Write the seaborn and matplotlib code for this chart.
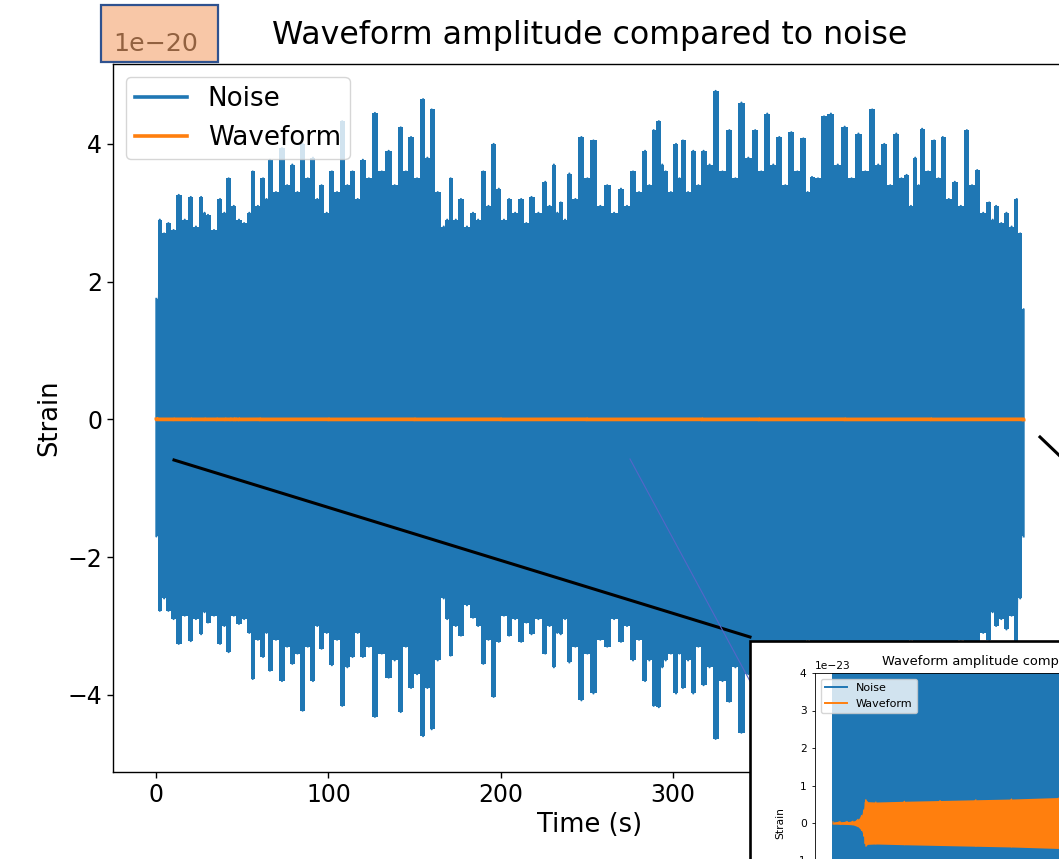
import numpy as np
import matplotlib
matplotlib.use("Agg")
import matplotlib.pyplot as plt
from matplotlib.lines import Line2D
from matplotlib.patches import Rectangle
import seaborn as sns

# ---------------- data ----------------
# noise bursts: time (s), upper and lower extremes (units of 1e-20)
noise_t = [0, 2, 4.5, 7, 10, 13, 16.5, 20, 23, 26,
           28, 30, 33.5, 37, 39.5, 42, 45, 48, 51, 54,
           56, 59, 62, 64, 66, 69.5, 73, 76, 79, 82,
           85, 88, 91, 93.5, 96, 99, 102, 105, 108, 111,
           114, 117, 120, 123.5, 127, 131, 135, 138.5, 142, 145,
           148, 151.5, 155, 157.5, 160, 163.5, 167, 169, 171, 174,
           177, 180.5, 184, 187, 190, 193, 196, 199, 202, 205,
           208.5, 212, 215, 218, 222, 226, 228.5, 231, 233, 235,
           237.5, 240, 243.5, 247, 250.5, 254, 258, 262, 266, 270,
           273.5, 277, 280.5, 284, 286.5, 289, 292, 294, 296, 299,
           302, 304, 306, 309, 312, 315, 318, 321.5, 325, 329,
           333, 336.5, 340, 344, 348, 351.5, 355, 358.5, 362, 365.5,
           369, 372.5, 376, 378.5, 381, 384.5, 388, 392, 396, 400,
           404, 408, 412, 416, 419.5, 423, 426.5, 430, 433, 436,
           438.5, 441, 443, 445, 448.5, 452, 454.5, 457, 460.5, 464,
           467.5, 471, 474, 477, 480.5, 484, 486, 488, 491, 494,
           497, 500, 502, 504]
noise_upper = [1.75, 2.9, 2.7, 2.85, 2.75, 3.26, 2.9, 3.23, 2.8, 3.23,
               3.0, 2.97, 2.75, 3.2, 3.0, 3.5, 3.1, 2.9, 2.85, 3.0,
               3.6, 3.1, 3.5, 3.2, 3.77, 3.3, 3.94, 3.4, 3.7, 3.3,
               4.0, 3.5, 3.8, 3.2, 3.4, 3.0, 3.6, 3.3, 4.33, 3.4,
               3.6, 3.2, 3.77, 3.5, 4.45, 3.6, 3.9, 3.4, 4.24, 3.6,
               4.1, 3.5, 4.65, 3.8, 4.5, 3.3, 2.8, 2.9, 3.5, 2.9,
               3.2, 2.8, 3.0, 2.9, 3.6, 3.1, 4.0, 3.35, 2.9, 3.2,
               3.0, 3.2, 2.85, 3.23, 3.0, 3.45, 3.1, 3.7, 3.0, 3.15,
               2.9, 3.57, 3.2, 4.1, 3.5, 4.05, 3.1, 3.4, 3.0, 3.35,
               3.1, 3.6, 3.3, 3.9, 3.4, 4.2, 4.33, 3.7, 3.6, 3.3,
               4.0, 3.5, 4.05, 3.3, 3.9, 3.4, 3.9, 3.7, 4.77, 3.6,
               4.2, 3.5, 4.6, 3.8, 4.2, 3.6, 4.44, 3.7, 4.1, 3.4,
               4.17, 3.6, 4.08, 3.3, 3.52, 3.5, 4.4, 4.44, 3.7, 4.25,
               3.5, 4.15, 3.6, 4.5, 3.7, 4.0, 3.4, 4.15, 3.5, 3.55,
               3.1, 3.8, 3.4, 4.22, 3.6, 4.05, 3.5, 4.1, 3.2, 3.45,
               3.1, 4.2, 3.4, 3.62, 3.0, 3.15, 2.9, 3.1, 2.85, 3.0,
               2.8, 3.2, 2.7, 1.6]
noise_lower = [-1.7, -2.78, -2.6, -2.78, -2.9, -3.26, -2.85, -3.22, -2.9, -3.12,
               -2.8, -2.95, -2.85, -3.26, -3.0, -3.38, -2.85, -2.97, -2.9, -3.1,
               -3.77, -3.2, -3.45, -3.1, -3.65, -3.2, -3.8, -3.3, -3.55, -3.4,
               -4.23, -3.3, -3.8, -3.0, -3.33, -3.1, -3.57, -3.2, -4.16, -3.6,
               -3.45, -3.1, -3.45, -3.3, -4.32, -3.4, -3.75, -3.5, -4.25, -3.3,
               -3.9, -3.7, -4.6, -3.9, -4.5, -3.5, -2.6, -2.9, -3.43, -3.0,
               -3.14, -2.7, -2.88, -3.0, -3.55, -3.2, -4.03, -3.23, -2.85, -3.14,
               -2.9, -3.23, -2.95, -3.12, -2.9, -3.4, -3.0, -3.6, -3.1, -3.12,
               -2.9, -3.53, -3.3, -4.08, -3.4, -3.98, -3.2, -3.3, -2.9, -3.23,
               -3.0, -3.5, -3.2, -3.8, -3.5, -4.16, -4.18, -3.6, -3.5, -3.4,
               -3.98, -3.4, -3.9, -3.5, -3.98, -3.3, -3.86, -3.6, -4.64, -3.8,
               -4.1, -3.6, -4.55, -3.7, -4.1, -3.5, -4.3, -3.6, -4.0, -3.5,
               -4.2, -3.7, -3.95, -3.2, -3.6, -3.6, -4.35, -4.4, -3.6, -4.1,
               -3.7, -4.2, -3.5, -4.4, -3.6, -3.9, -3.5, -4.1, -3.4, -3.5,
               -3.2, -3.7, -3.3, -4.15, -3.5, -4.0, -3.6, -4.05, -3.3, -3.5,
               -3.2, -4.1, -3.3, -3.7, -3.1, -3.2, -2.8, -3.0, -2.9, -3.05,
               -2.85, -3.25, -2.6, -1.7]
# waveform envelope (units of 1e-23)
wave_t = [0, 10, 20, 28, 35, 40, 43, 45, 46, 48, 60, 100, 150, 200, 250, 317, 350, 400,
          450, 504]
wave_amp = [0.03, 0.035, 0.04, 0.05, 0.1, 0.2, 0.35, 0.55, 0.62, 0.57, 0.56, 0.58, 0.6,
            0.62, 0.64, 0.68, 0.7, 0.73, 0.76, 0.8]

NOISE_UNIT = 1e-20
WAVE_UNIT = 1e-23
title = "Waveform amplitude compared to noise"
xlabel = "Time (s)"
ylabel = "Strain"
series_labels = ["Noise", "Waveform"]
x_ticks = [0, 100, 200, 300, 400, 500]
inset_y_ticks = [-4, -3, -2, -1, 0, 1, 2, 3, 4]

# ---------------- figure ----------------
W, H = 1059, 859
fig = plt.figure(figsize=(W / 100, H / 100), dpi=100)
fig.patch.set_facecolor("white")


def fx(px):
    return px / W


def fy(py):
    return 1 - py / H


BLUE = "#1f77b4"
ORANGE = "#ff7f0e"

nt = np.asarray(noise_t, float)
nu = np.asarray(noise_upper, float) * NOISE_UNIT
nl = np.asarray(noise_lower, float) * NOISE_UNIT
zig_x = np.repeat(nt, 2)
zig_y = np.column_stack([nu, nl]).ravel()
wt = np.asarray(wave_t, float)
wa = np.asarray(wave_amp, float) * WAVE_UNIT
wzig_x = np.repeat(wt, 2)
wzig_y = np.column_stack([wa, -wa]).ravel()


def draw(ax, lw_noise, lw_wave):
    # dense noise: each burst as a filled step between its extremes
    ax.fill_between(nt, nl, nu, step="mid", color=BLUE, lw=0, zorder=1)
    sns.lineplot(x=zig_x, y=zig_y, sort=False, estimator=None, color=BLUE,
                 lw=lw_noise, label=series_labels[0], ax=ax, legend=False)
    ax.fill_between(wt, -wa, wa, color=ORANGE, lw=0, zorder=2.1)
    sns.lineplot(x=wzig_x, y=wzig_y, sort=False, estimator=None, color=ORANGE,
                 lw=lw_wave, label=series_labels[1], ax=ax, legend=False, zorder=2.2)


# main axes (right side is cropped by the figure edge)
ax = fig.add_axes([fx(113), fy(772), fx(1067) - fx(113), fy(64) - fy(772)], zorder=0)
draw(ax, 1.5, 2.7)
ax.set_xticks(x_ticks)
ax.set_ylim(-5.12 * NOISE_UNIT, 5.16 * NOISE_UNIT)
ax.set_title(title, fontsize=22.8, pad=14.5)
ax.set_xlabel(xlabel, fontsize=18.5)
ax.set_ylabel(ylabel, fontsize=18.5)
ax.tick_params(labelsize=17, length=4.3, width=1)
ax.yaxis.get_offset_text().set_fontsize(18.2)
ax.yaxis.OFFSETTEXTPAD = 9.5
for s in ax.spines.values():
    s.set_linewidth(1.0)
leg = ax.legend(loc="upper left", fontsize=18.8, borderpad=0.33)
for h in leg.legend_handles:
    h.set_linewidth(2.6)

# annotation lines
fig.add_artist(Line2D([fx(174), fx(750)], [fy(460), fy(637)], transform=fig.transFigure,
                      color="black", lw=2.2, zorder=2))
fig.add_artist(Line2D([fx(1040), fx(1085)], [fy(437), fy(480)], transform=fig.transFigure,
                      color="black", lw=2.2, zorder=2))
fig.add_artist(Line2D([fx(630), fx(751)], [fy(459), fy(683)], transform=fig.transFigure,
                      color="#5566c8", lw=0.8, zorder=2))

# inset picture frame
fig.add_artist(Rectangle((fx(750), fy(900)), fx(1100) - fx(750), fy(641) - fy(900),
                         transform=fig.transFigure, facecolor="white", edgecolor="black",
                         lw=1.9, zorder=3))

ax2 = fig.add_axes([fx(815), fy(973), 396 / W, 300 / H], zorder=4)
draw(ax2, 1.2, 0.8)
ax2.set_ylim(-4 * WAVE_UNIT, 4 * WAVE_UNIT)
ax2.set_yticks(np.asarray(inset_y_ticks) * WAVE_UNIT)
ax2.set_xticks(x_ticks)
ax2.set_title(title, fontsize=9.4)
ax2.set_ylabel(ylabel, fontsize=7.7)
ax2.tick_params(labelsize=7.7, length=2.5, width=0.6)
ax2.tick_params(axis="x", labelbottom=False)
ax2.yaxis.get_offset_text().set_fontsize(7.7)
for s in ax2.spines.values():
    s.set_linewidth(0.6)
leg2 = ax2.legend(loc="upper left", fontsize=8)
for h in leg2.legend_handles:
    h.set_linewidth(1.4)

# highlight box around the offset text
fig.add_artist(Rectangle((fx(101), fy(62)), fx(218) - fx(101), fy(5) - fy(62),
                         transform=fig.transFigure, facecolor=(0.957, 0.639, 0.424, 0.6),
                         edgecolor="#2f528f", lw=1.6, zorder=6))

fig.savefig("out.png", dpi=100)
